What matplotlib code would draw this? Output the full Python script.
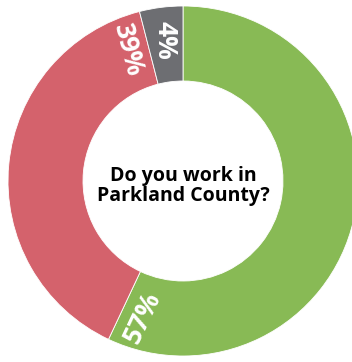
import numpy as np
import matplotlib
matplotlib.use("Agg")
import matplotlib.pyplot as plt

# ---------------------------------------------------------------------------
# Data
# ---------------------------------------------------------------------------
shares = [57, 39, 4]
share_labels = ["57%", "39%", "4%"]
slice_colors = ["#88BA55", "#D4626C", "#6D6E72"]
centre_title = "Do you work in\nParkland County?"

plt.rcParams["font.family"] = ["Open Sans", "DejaVu Sans"]

W, H = 352, 362
fig = plt.figure(figsize=(W / 100, H / 100), dpi=100)
ax = fig.add_axes([0, 0, 1, 1])

cx, cy = 183, 181
r_out, r_in = 175, 100

ax.pie(
    shares,
    colors=slice_colors,
    startangle=90,
    counterclock=False,
    radius=r_out,
    center=(cx, cy),
    wedgeprops=dict(width=r_out - r_in, edgecolor="white", linewidth=0.6),
    frame=True,
)
ax.set_xlim(0, W)
ax.set_ylim(0, H)
ax.set_aspect("equal")
ax.axis("off")

# labels sit near the clockwise end of each slice, aligned with its edge
total = float(sum(shares))
ends = np.cumsum(shares) / total * 360.0
spans = np.array(shares) / total * 360.0
r_lab = 142
for end, span, lab in zip(ends, spans, share_labels):
    a_cw = end - min(8.5, span / 2)
    th = np.deg2rad(90 - a_cw)
    x = cx + r_lab * np.cos(th)
    y = cy + r_lab * np.sin(th)
    rot = (90 - end) + 180
    rot = (rot + 180) % 360 - 180
    ax.text(x, y, lab, rotation=rot, rotation_mode="anchor",
            ha="center", va="center", color="white",
            fontsize=19, fontweight="bold")

ax.text(cx, cy - 5, centre_title, ha="center", va="center",
        fontsize=14, fontweight="bold", color="black", linespacing=0.95)

fig.savefig("out.png", dpi=100)
